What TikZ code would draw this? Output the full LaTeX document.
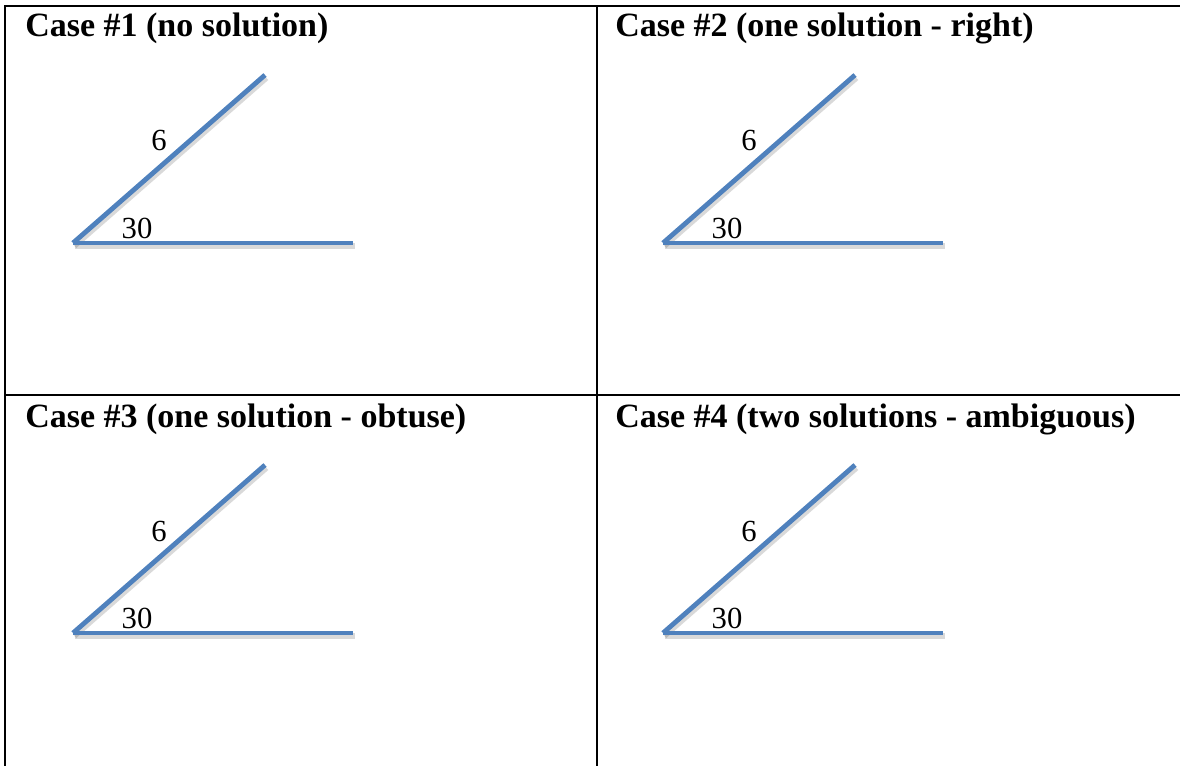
\documentclass[tikz,border=0pt]{standalone}
\usepackage{fontspec}
\setmainfont{Liberation Serif}
\definecolor{lineblue}{RGB}{79,129,189}
\begin{document}
\begin{tikzpicture}[x=0.75pt, y=-0.75pt,
  side/.style={line width=3.6pt, lineblue},
  shade/.style={line width=4pt, black, opacity=0.15},
  rule/.style={line width=1.5pt},
  title/.style={anchor=base west, inner sep=0pt, font=\bfseries\fontsize{25.5}{30}\selectfont},
  num/.style={inner sep=0pt, font=\fontsize{23}{27}\selectfont}]
  \useasboundingbox (0,0) rectangle (1180,766);
  % table lines
  \draw[rule] (5,766) -- (5,6) -- (1180,6);
  \draw[rule] (597,6) -- (597,766);
  \draw[rule] (5,395) -- (1180,395);
  % the four cases
  \foreach \i/\dx/\dy/\txt in {1/0/0/{no solution}, 2/590/0/{one solution - right},
      3/0/390/{one solution - obtuse}, 4/590/390/{two solutions - ambiguous}} {
    \begin{scope}[shift={(\dx,\dy)}]
      \node[title] (title\i) at (25,37) {Case \#\i\ (\txt)};
      \coordinate (v\i) at (73,243);
      \coordinate (a\i) at (265,75);
      \coordinate (b\i) at (353,243);
      % shadow, then the two sides
      \draw[shade] ([shift={(1.5,3)}]a\i) -- ([shift={(1.5,3)}]v\i);
      \draw[shade] ([shift={(1.5,3)}]v\i) -- ([shift={(1.5,3)}]b\i);
      \draw[side] (a\i) -- (v\i);
      \draw[side] (v\i) -- (b\i);
      \node[num] (len\i) at (159,141) {6};
      \node[num] (ang\i) at (137,228) {30};
    \end{scope}
  }
\end{tikzpicture}
\end{document}
